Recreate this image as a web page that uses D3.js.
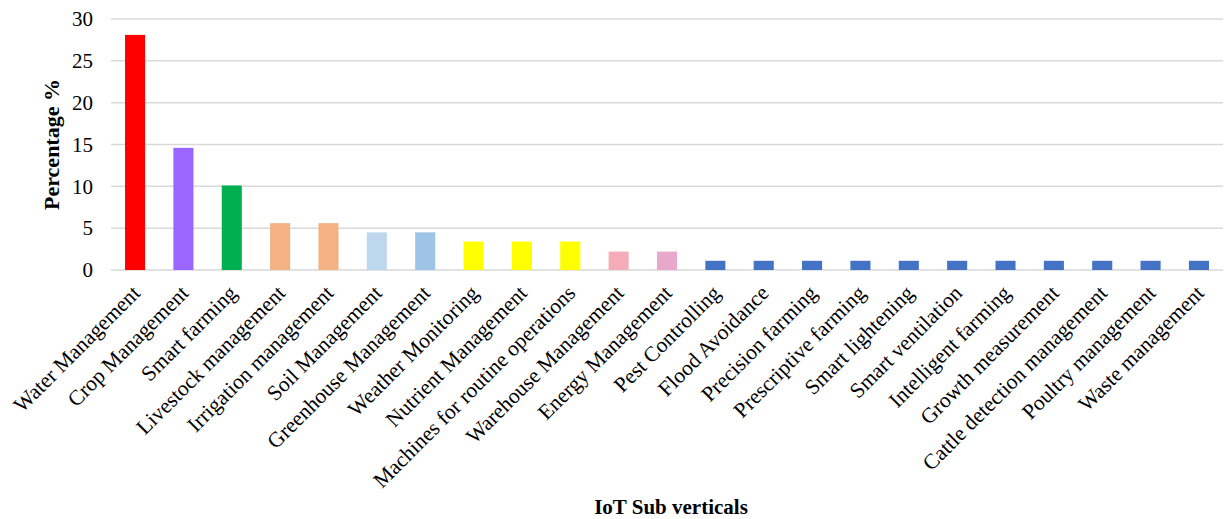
<!DOCTYPE html>
<html>
<head>
<meta charset="utf-8">
<script src="https://cdn.jsdelivr.net/npm/d3@7"></script>
<style>
  body { margin: 0; background: #fff; }
  svg text { font-family: "Liberation Serif", "Times New Roman", serif; fill: #000; }
</style>
</head>
<body>
<div id="chart"></div>
<script>
const categories = [
    "Water Management", "Crop Management", "Smart farming", "Livestock management",
    "Irrigation management", "Soil Management", "Greenhouse Management", "Weather Monitoring",
    "Nutrient Management", "Machines for routine operations", "Warehouse Management",
    "Energy Management", "Pest Controlling", "Flood Avoidance", "Precision farming",
    "Prescriptive farming", "Smart lightening", "Smart ventilation", "Intelligent farming",
    "Growth measurement", "Cattle detection management", "Poultry management", "Waste management"
];
const values = [28.1, 14.6, 10.1, 5.6, 5.6, 4.5, 4.5, 3.4, 3.4, 3.4, 2.2, 2.2,
    1.1, 1.1, 1.1, 1.1, 1.1, 1.1, 1.1, 1.1, 1.1, 1.1, 1.1];
const colors = ["#FF0000", "#9966FF", "#00B050", "#F4B183", "#F4B183", "#BDD7EE", "#9DC3E6",
    "#FFFF00", "#FFFF00", "#FFFF00", "#F4ACB9", "#E8A8CC",
    "#4472C4", "#4472C4", "#4472C4", "#4472C4", "#4472C4", "#4472C4", "#4472C4",
    "#4472C4", "#4472C4", "#4472C4", "#4472C4"];
const yTicks = [0, 5, 10, 15, 20, 25, 30];

const width = 1227, height = 519;
const margin = {top: 19, right: 4, bottom: 249, left: 111};

const svg = d3.select("#chart").append("svg")
    .attr("width", width).attr("height", height);

const x = d3.scaleBand()
    .domain(categories)
    .range([margin.left, width - margin.right])
    .paddingInner(0.585).paddingOuter(0.29);

const y = d3.scaleLinear()
    .domain([0, 30])
    .range([height - margin.bottom, margin.top]);

// grid lines
svg.append("g")
    .selectAll("line")
    .data(yTicks)
    .join("line")
    .attr("x1", margin.left).attr("x2", width - margin.right)
    .attr("y1", d => y(d)).attr("y2", d => y(d))
    .attr("stroke", "#d9d9d9").attr("stroke-width", 1.5);

// y axis labels
const yAxis = svg.append("g")
    .attr("transform", `translate(${margin.left - 18},0)`)
    .call(d3.axisLeft(y).tickValues(yTicks).tickSize(0).tickPadding(0));
yAxis.select(".domain").remove();
yAxis.selectAll("text")
    .style("font-size", "21px")
    .style("font-family", "Liberation Serif");

// bars
svg.append("g")
    .selectAll("rect")
    .data(values)
    .join("rect")
    .attr("x", (d, i) => x(categories[i]))
    .attr("width", x.bandwidth())
    .attr("y", d => y(d))
    .attr("height", d => y(0) - y(d))
    .attr("fill", (d, i) => colors[i]);

// x axis labels
const xAxis = svg.append("g")
    .attr("transform", `translate(0,${y(0)})`)
    .call(d3.axisBottom(x).tickSize(0).tickPadding(0));
xAxis.select(".domain").remove();
xAxis.selectAll("text")
    .style("font-size", "21.5px")
    .style("font-family", "Liberation Serif")
    .attr("text-anchor", "end")
    .attr("dy", "0.35em")
    .attr("transform", "translate(1,19) rotate(-45)");

// axis titles
svg.append("text")
    .attr("transform", `translate(59,${(y(0) + y(30)) / 2}) rotate(-90)`)
    .attr("text-anchor", "middle")
    .style("font-size", "22px")
    .style("font-weight", "bold")
    .text("Percentage %");

svg.append("text")
    .attr("x", (margin.left + width - margin.right) / 2 + 4)
    .attr("y", 514)
    .attr("text-anchor", "middle")
    .style("font-size", "21px")
    .style("font-weight", "bold")
    .text("IoT Sub verticals");
</script>
</body>
</html>
